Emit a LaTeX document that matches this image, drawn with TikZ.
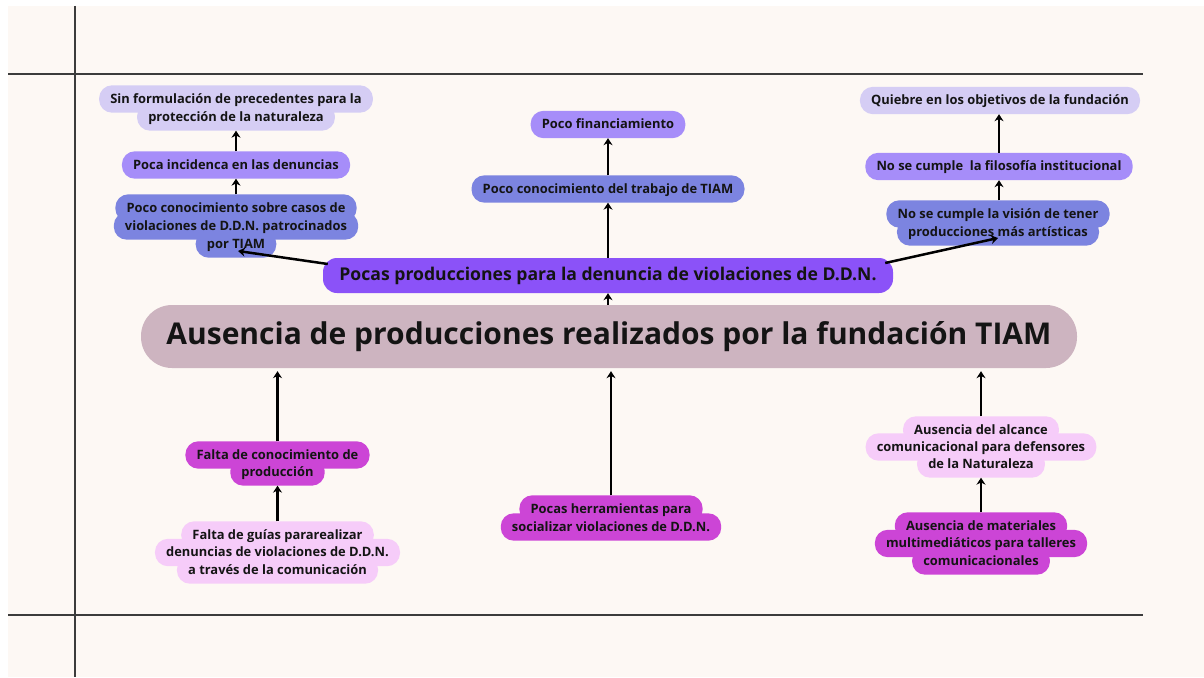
\documentclass[tikz,border=0pt]{standalone}
\usepackage{fontspec}
\setmainfont{Open Sans}
\usetikzlibrary{arrows.meta,calc}
\pgfdeclarelayer{background}
\pgfsetlayers{background,main}
\definecolor{cream}{HTML}{FDF8F4}
\definecolor{framegray}{HTML}{3C3C3C}
\definecolor{mainc}{HTML}{CDB4C0}
\definecolor{violet}{HTML}{8B52F8}
\definecolor{periw}{HTML}{7C84E0}
\definecolor{lav}{HTML}{A68DF9}
\definecolor{lightlav}{HTML}{D5CDF4}
\definecolor{magenta}{HTML}{CC45D6}
\definecolor{lightpink}{HTML}{F6CCF9}
\definecolor{txt}{HTML}{141414}
\newcommand\mmfill[2]{\foreach \n in {#2}{\fill[#1, rounded corners=13pt] (\n.south west) rectangle (\n.north east);}}
\begin{document}
\begin{tikzpicture}[x=1pt,y=-1pt,
  ln/.style={font=\bfseries\fontsize{12.9}{15}\selectfont, text=txt, text height=10.6pt, text depth=1.7pt, inner xsep=11pt, inner ysep=0pt, minimum height=27pt},
  arr/.style={line width=2.5pt, black, -{Stealth[length=7pt,width=9pt]}},
  framel/.style={line width=1.6pt, draw=framegray},
  mainbox/.style={font=\bfseries\fontsize{30}{34}\selectfont, text=txt, fill=mainc, rounded corners=31pt, minimum width=936pt, minimum height=63pt, inner sep=0pt},
  branch/.style={font=\bfseries\fontsize{17.6}{20}\selectfont, text=txt, fill=violet, rounded corners=14pt, minimum width=570pt, minimum height=35pt, inner sep=0pt}
]
\useasboundingbox (0,0) rectangle (1204,677);
\begin{pgfonlayer}{background}
\fill[white] (0,0) rectangle (1204,677);
\fill[cream] (8,6) rectangle (1204,677);
\end{pgfonlayer}
% frame lines
\draw[framel] (75,6) -- (75,677);
\draw[framel] (8,74) -- (1143,74);
\draw[framel] (8,615) -- (1143,615);

% central nodes
\node[mainbox] (main) at (609,336.5) {Ausencia de producciones realizados por la fundación TIAM};
\node[branch] (pp) at (608,275.5) {Pocas producciones para la denuncia de violaciones de D.D.N.};
\node[ln] (ctr) at (608,189) {Poco conocimiento del trabajo de TIAM};
\node[ln] (fin) at (608,124.5) {Poco financiamiento};

% left cluster
\node[ln] (l1a) at (236,99) {Sin formulación de precedentes para la};
\node[ln] (l1b) at (236,117) {protección de la naturaleza};
\node[ln] (l2) at (236,165) {Poca incidenca en las denuncias};
\node[ln] (l3a) at (236,208) {Poco conocimiento sobre casos de};
\node[ln] (l3b) at (236,226) {violaciones de D.D.N. patrocinados};
\node[ln] (l3c) at (236,244) {por TIAM};

% right cluster
\node[ln] (r1) at (1000,100.5) {Quiebre en los objetivos de la fundación};
\node[ln] (r2) at (999,166.5) {No se cumple\ \ la filosofía institucional};
\node[ln] (r3a) at (998,214) {No se cumple la visión de tener};
\node[ln] (r3b) at (998,232) {producciones más artísticas};

% bottom left
\node[ln] (b1a) at (277.5,455) {Falta de conocimiento de};
\node[ln] (b1b) at (277.5,472) {producción};
\node[ln] (b2a) at (277.5,535) {Falta de guías pararealizar};
\node[ln] (b2b) at (277.5,552.5) {denuncias de violaciones de D.D.N.};
\node[ln] (b2c) at (277.5,570) {a través de la comunicación};

% bottom middle
\node[ln] (m1a) at (611,509) {Pocas herramientas para};
\node[ln] (m1b) at (611,527) {socializar violaciones de D.D.N.};

% bottom right
\node[ln] (c1a) at (981,430) {Ausencia del alcance};
\node[ln] (c1b) at (981,447) {comunicacional para defensores};
\node[ln] (c1c) at (981,464) {de la Naturaleza};
\node[ln] (c2a) at (981,526) {Ausencia de materiales};
\node[ln] (c2b) at (981,543.5) {multimediáticos para talleres};
\node[ln] (c2c) at (981,561) {comunicacionales};

\begin{pgfonlayer}{background}
\mmfill{lav}{fin,l2,r2}
\mmfill{periw}{ctr,l3a,l3b,l3c,r3a,r3b}
\mmfill{lightlav}{l1a,l1b,r1}
\mmfill{magenta}{b1a,b1b,m1a,m1b,c2a,c2b,c2c}
\mmfill{lightpink}{b2a,b2b,b2c,c1a,c1b,c1c}
\end{pgfonlayer}

% connectors
\draw[arr] (main.north -| pp.south) -- (pp.south);
\draw[arr] (pp.north) -- (ctr.south);
\draw[arr] (ctr.north) -- (fin.south);
\draw[arr] ($(pp.west)+(5,-11.5)$) -- ($(l3c.center)+(2,7)$);
\draw[arr] ($(pp.east)+(-8,-12.5)$) -- ($(r3b.center)+(0,6)$);
\draw[arr] (l3a.north) -- (l2.south);
\draw[arr] (l2.north) -- (l1b.south);
\draw[arr] (r3a.north -| r2.south) -- (r2.south);
\draw[arr] (r2.north) -- (r1.south -| r2.north);
\draw[arr] (b2a.north) -- (b1b.south);
\draw[arr] (b1a.north) -- ($(main.south -| b1a.north)+(0,3)$);
\draw[arr] (m1a.north) -- ($(main.south -| m1a.north)+(0,3)$);
\draw[arr] (c2a.north) -- (c1c.south);
\draw[arr] (c1a.north) -- ($(main.south -| c1a.north)+(0,3)$);
\end{tikzpicture}
\end{document}
